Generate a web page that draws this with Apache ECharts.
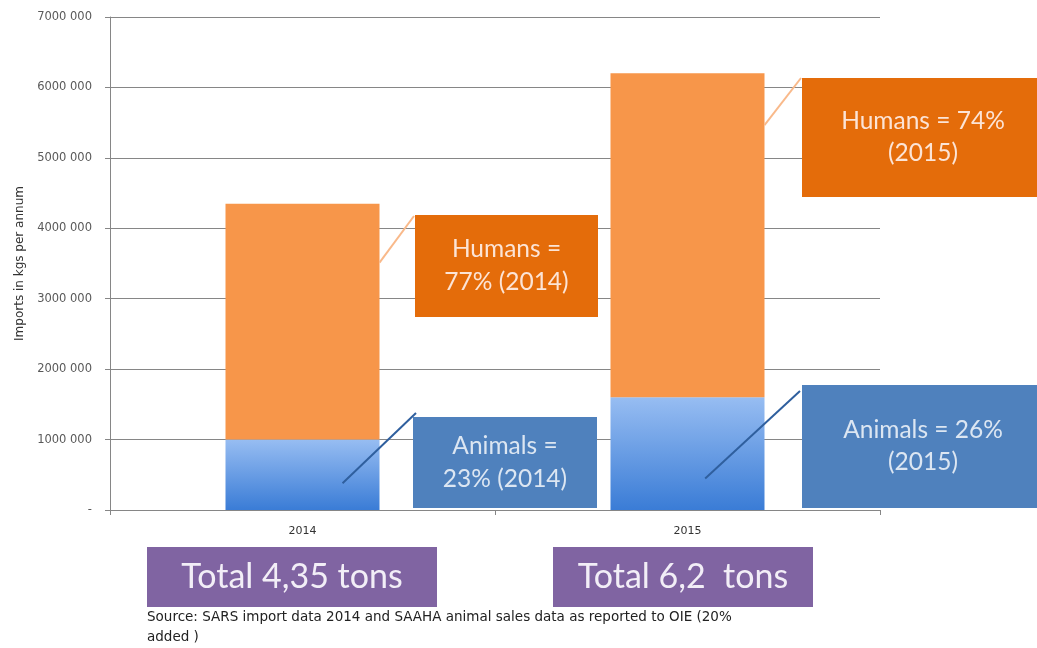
<!DOCTYPE html>
<html>
<head>
<meta charset="utf-8">
<script src="https://cdn.jsdelivr.net/npm/echarts@6/dist/echarts.min.js"></script>
<style>
html,body{margin:0;padding:0;background:#fff;}
#c{width:1037px;height:648px;}
</style>
</head>
<body>
<div id="c"></div>
<script>
// ---- data ----
const categories = ['2014', '2015'];
const animals = [1000000, 1600000];
const humans = [3350000, 4600000];
const humanLabels = ['Humans =\n77% (2014)', 'Humans = 74%\n(2015)'];
const animalLabels = ['Animals =\n23% (2014)', 'Animals = 26%\n(2015)'];
const totalLabels = ['Total 4,35 tons', 'Total 6,2  tons'];
const yAxisName = 'Imports in kgs per annum';
const sourceText = 'Source: SARS import data 2014 and SAAHA animal sales data as reported to OIE (20%\nadded )';

const chart = echarts.init(document.getElementById('c'));
const GRID = '#868686';
chart.setOption({
  animation: false,
  backgroundColor: '#fff',
  grid: { left: 110, right: 157, top: 17, bottom: 138 },
  xAxis: {
    type: 'category',
    data: categories,
    axisLine: { lineStyle: { color: GRID, width: 1 } },
    axisTick: { show: true, length: 5, lineStyle: { color: GRID } },
    axisLabel: { color: '#333', fontSize: 11, fontFamily: 'DejaVu Sans', margin: 16 }
  },
  yAxis: {
    type: 'value',
    min: 0, max: 7000000, interval: 1000000,
    name: yAxisName,
    nameLocation: 'middle',
    nameGap: 83,
    nameTextStyle: { color: '#333', fontSize: 12, fontFamily: 'DejaVu Sans' },
    axisLine: { show: true, lineStyle: { color: GRID } },
    axisTick: { show: true, length: 5, lineStyle: { color: GRID } },
    splitLine: { lineStyle: { color: GRID, width: 1 } },
    axisLabel: {
      color: '#595959', fontSize: 11.5, fontFamily: 'DejaVu Sans', margin: 18,
      formatter: v => v === 0 ? '-' : (v / 1000) + ' 000'
    }
  },
  series: [
    {
      name: 'Animals', type: 'bar', stack: 't', barWidth: '40%',
      data: animals,
      itemStyle: {
        color: new echarts.graphic.LinearGradient(0, 0, 0, 1, [
          { offset: 0, color: '#97BDF2' },
          { offset: 1, color: '#3A7CD6' }
        ])
      }
    },
    {
      name: 'Humans', type: 'bar', stack: 't', barWidth: '40%',
      data: humans,
      itemStyle: { color: '#F7964A' }
    }
  ]
});

// ---- annotations ----
function px(ci, v) { return chart.convertToPixel({ gridIndex: 0 }, [ci, v]); }
const bandHalf = (px(1, 0)[0] - px(0, 0)[0]) * 0.2;

function box(x, y, w, h, fill, text, color, size, lh, font) {
  return {
    type: 'group', z: 100,
    children: [
      { type: 'rect', shape: { x: x, y: y, width: w, height: h }, style: { fill: fill }, z: 100 },
      { type: 'text', x: x + w / 2, y: y + h / 2, z: 101,
        style: { text: text, fill: color, font: size + 'px ' + font, align: 'center', verticalAlign: 'middle', lineHeight: lh } }
    ]
  };
}
function lineFrom(p, x2, y2, color) {
  return { type: 'line', z: 99, shape: { x1: p[0], y1: p[1], x2: x2, y2: y2 }, style: { stroke: color, lineWidth: 2 } };
}

const g = [];
// leader lines (start points on the bars)
const h0 = px(0, animals[0] + humans[0] * 0.75); h0[0] += bandHalf;
const h1 = px(1, animals[1] + humans[1] * 0.84); h1[0] += bandHalf;
const a0 = px(0, animals[0] * 0.38); a0[0] += bandHalf * 0.52;
const a1 = px(1, animals[1] * 0.28); a1[0] += bandHalf * 0.23;
g.push(lineFrom(h0, 414, 216, '#F9B98A'));
g.push(lineFrom(h1, 801, 78, '#F9B98A'));
g.push(lineFrom(a0, 416, 413, '#2F5F9E'));
g.push(lineFrom(a1, 800, 391, '#2F5F9E'));

const CF = '"Lato", "Open Sans", sans-serif';
g.push(box(415, 215, 183, 102, '#E46C0A', humanLabels[0], '#FCE4D6', 24.5, 33, CF));
g.push(box(413, 417, 184, 91, '#4F81BD', animalLabels[0], '#DCE6F2', 24.5, 33, CF));
g.push(box(802, 78, 242, 119, '#E46C0A', humanLabels[1], '#FCE4D6', 24.5, 32, CF));
g.push(box(802, 385, 242, 123, '#4F81BD', animalLabels[1], '#DCE6F2', 24.5, 32, CF));

g.push(box(147, 547, 290, 60, '#8064A2', totalLabels[0], '#F2EEF7', 34, 40, CF));
g.push(box(553, 547, 260, 60, '#8064A2', totalLabels[1], '#F2EEF7', 34, 40, CF));

g.push({ type: 'text', x: 147, y: 607, z: 101,
  style: { text: sourceText, fill: '#222', font: '13.5px "DejaVu Sans"', lineHeight: 20, align: 'left', verticalAlign: 'top' } });

chart.setOption({ graphic: g });
</script>
</body>
</html>
